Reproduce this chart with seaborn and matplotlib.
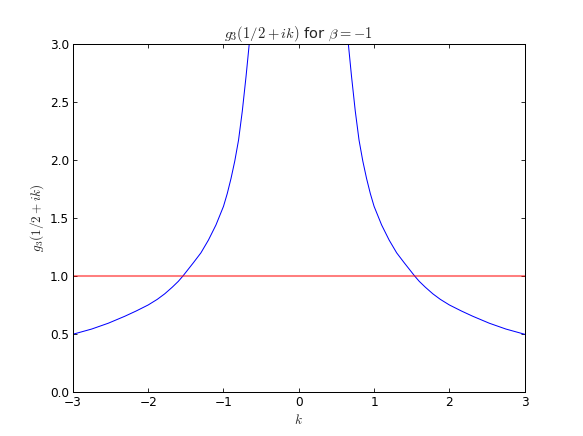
import numpy as np
import pandas as pd
import matplotlib
matplotlib.use("Agg")
import matplotlib.pyplot as plt
import seaborn as sns

# valeurs (partie k > 0, la courbe est symétrique)
k_pos = [0.60, 0.65, 0.70, 0.75, 0.80, 0.85, 0.90, 0.95, 1.00, 1.10, 1.20,
         1.30, 1.40, 1.54, 1.60, 1.68, 1.78, 1.88, 2.00, 2.16, 2.31, 2.53,
         2.75, 3.00]
g_pos = [3.45, 3.05, 2.72, 2.42, 2.17, 1.99, 1.84, 1.71, 1.60, 1.44, 1.31,
         1.20, 1.115, 1.00, 0.955, 0.905, 0.848, 0.80, 0.752, 0.70, 0.655,
         0.595, 0.545, 0.50]
seuil = 1.0
x_ticks = [-3, -2, -1, 0, 1, 2, 3]
y_ticks = [0.0, 0.5, 1.0, 1.5, 2.0, 2.5, 3.0]

sns.set_style("ticks")
plt.rcParams.update({
    "font.family": ["DejaVu Sans"],
    "mathtext.fontset": "cm",
    "font.size": 12,
    "xtick.direction": "in",
    "ytick.direction": "in",
    "xtick.top": True,
    "ytick.right": True,
    "axes.edgecolor": "black",
    "axes.linewidth": 1.0,
    "xtick.color": "black",
    "ytick.color": "black",
})

# deux branches, une de chaque côté de k = 0
left = pd.DataFrame({"k": [-v for v in k_pos[::-1]], "g": g_pos[::-1]})
right = pd.DataFrame({"k": k_pos, "g": g_pos})
df_seuil = pd.DataFrame({"k": [x_ticks[0], x_ticks[-1]], "g": [seuil, seuil]})

dpi = 72.9
fig = plt.figure(figsize=(583 / dpi, 436 / dpi), dpi=dpi)
ax = fig.add_axes([0.125, 0.1, 0.775, 0.8])

sns.lineplot(data=left, x="k", y="g", ax=ax, color="blue", lw=1.0, sort=False)
sns.lineplot(data=right, x="k", y="g", ax=ax, color="blue", lw=1.0, sort=False)
sns.lineplot(data=df_seuil, x="k", y="g", ax=ax, color="red", lw=2.0,
             alpha=0.5)

ax.set_xlim(-3, 3)
ax.set_ylim(0, 3)
ax.set_xticks(x_ticks)
ax.set_yticks(y_ticks)
ax.set_xticklabels([f"{t}".replace("-", "\u2212") for t in x_ticks])
ax.set_yticklabels([f"{t:.1f}" for t in y_ticks])
ax.tick_params(length=4, width=0.8, pad=4, labelsize=12)
for s in ax.spines.values():
    s.set_visible(True)

ax.set_xlabel("$k$", fontsize=13, labelpad=4)
ax.set_ylabel("$g_3(1/2+ik)$", fontsize=13, labelpad=4)
ax.set_title(r"$g_3(1/2+ik)$ for $\beta=-1$", fontsize=14.4, pad=4)

fig.savefig("out.png", dpi=dpi)
